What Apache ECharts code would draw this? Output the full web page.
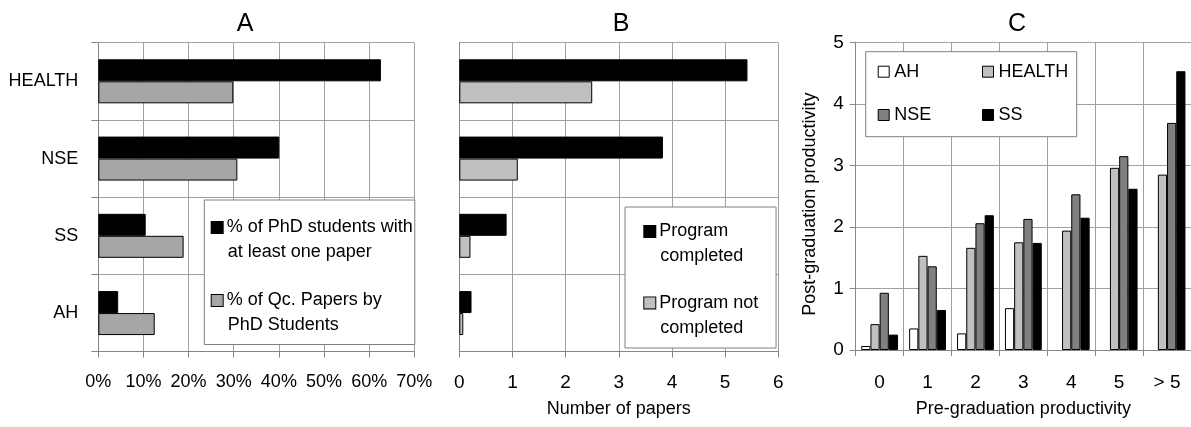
<!DOCTYPE html>
<html>
<head>
<meta charset="utf-8">
<script src="https://cdn.jsdelivr.net/npm/echarts@6/dist/echarts.min.js"></script>
<style>html,body{margin:0;padding:0;background:#fff}#c{width:1191px;height:427px}</style>
</head>
<body>
<div id="c"></div>
<script>
// ---- data ----
var catsAB = ['HEALTH', 'NSE', 'SS', 'AH'];
var pctWithPaper = [62.6, 40.1, 10.5, 4.4];
var pctQcPapers = [29.9, 30.8, 18.9, 12.5];
var papersCompleted = [5.42, 3.83, 0.89, 0.23];
var papersNotCompleted = [2.50, 1.10, 0.21, 0.075];
var catsC = ['0', '1', '2', '3', '4', '5', '> 5'];
var cAH = [0.065, 0.35, 0.27, 0.68, null, null, null];
var cHEALTH = [0.42, 1.53, 1.66, 1.75, 1.94, 2.96, 2.85];
var cNSE = [0.93, 1.36, 2.06, 2.13, 2.53, 3.15, 3.69];
var cSS = [0.25, 0.65, 2.19, 1.74, 2.15, 2.62, 4.53];
var ticksA = [0, 10, 20, 30, 40, 50, 60, 70];
var ticksB = [0, 1, 2, 3, 4, 5, 6];
var ticksC = [0, 1, 2, 3, 4, 5];
var legendA = [['% of PhD students with', 'at least one paper'], ['% of Qc. Papers by', 'PhD Students']];
var legendB = [['Program', 'completed'], ['Program not', 'completed']];
var seriesNamesA = ['% of PhD students with at least one paper', '% of Qc. Papers by PhD Students'];
var seriesNamesB = ['Program completed', 'Program not completed'];
var seriesNamesC = ['AH', 'HEALTH', 'NSE', 'SS'];

var F = "'Liberation Sans Narrow', 'Arial Narrow', 'Liberation Sans', sans-serif";
var GRID = '#a0a0a0', AXIS = '#868686';
var colA = ['#000000', '#a6a6a6'];
var colB = ['#000000', '#c0c0c0'];
var colC = ['#ffffff', '#c0c0c0', '#808080', '#000000'];

function richLegend(cols) {
  var r = {
    t: {fontFamily: F, fontSize: 18, lineHeight: 25, color: '#000'},
    g: {width: 4, height: 12, lineHeight: 25},
    sp: {width: 16, height: 12, lineHeight: 25}
  };
  cols.forEach(function (c, i) {
    r['ic' + i] = {width: 11, height: 11, backgroundColor: c, borderColor: '#000', borderWidth: 1, lineHeight: 25};
  });
  return r;
}
function legendFmt(names, lines) {
  return function (name) {
    var i = names.indexOf(name);
    var l = lines[i];
    return '{ic' + i + '|}{g|}{t|' + l[0] + '}\n{sp|}{t|' + l[1] + '}';
  };
}

var chart = echarts.init(document.getElementById('c'), null, {renderer: 'canvas'});
var option = {
  animation: false,
  backgroundColor: '#fff',
  textStyle: {fontFamily: F},
  graphic: [
    {type: 'text', x: 245, y: 24, style: {text: 'A', align: 'center', verticalAlign: 'middle', fontSize: 25, fontFamily: F, fill: '#000'}},
    {type: 'text', x: 621, y: 24, style: {text: 'B', align: 'center', verticalAlign: 'middle', fontSize: 25, fontFamily: F, fill: '#000'}},
    {type: 'text', x: 1017, y: 24, style: {text: 'C', align: 'center', verticalAlign: 'middle', fontSize: 25, fontFamily: F, fill: '#000'}}
  ],
  grid: [
    {left: 98.3, width: 316, top: 42.7, height: 309},
    {left: 459.3, width: 319, top: 42.7, height: 309},
    {left: 855.7, width: 342.3, top: 42.3, height: 307.7}
  ],
  legend: [
    {
      data: seriesNamesA, left: 204.3, top: 200, orient: 'vertical',
      icon: 'none', itemWidth: 0, itemHeight: 0, itemGap: 30,
      padding: [18.5, 2, 10, 2.4], backgroundColor: '#fff', borderColor: '#808080', borderWidth: 1,
      formatter: legendFmt(seriesNamesA, legendA),
      textStyle: {rich: richLegend(colA)}, selectedMode: false
    },
    {
      data: seriesNamesB, left: 625, top: 207, orient: 'vertical',
      icon: 'none', itemWidth: 0, itemHeight: 0, itemGap: 28.4,
      padding: [15.5, 17.7, 11.1, 14.3], backgroundColor: '#fff', borderColor: '#808080', borderWidth: 1,
      formatter: legendFmt(seriesNamesB, legendB),
      textStyle: {rich: richLegend(colB)}, selectedMode: false
    },
    {
      data: seriesNamesC, left: 865.7, top: 51.7, orient: 'horizontal', width: 230,
      icon: 'rect', itemWidth: 11, itemHeight: 11, itemGap: 21.3,
      padding: [9, 8.5, 10.7, 12], backgroundColor: '#fff', borderColor: '#808080', borderWidth: 1,
      itemStyle: {borderColor: '#000', borderWidth: 1},
      textStyle: {fontFamily: F, fontSize: 18, lineHeight: 22, width: 66.5, color: '#000'}, selectedMode: false
    }
  ],
  xAxis: [
    {
      type: 'value', gridIndex: 0, min: ticksA[0], max: ticksA[ticksA.length - 1], interval: ticksA[1] - ticksA[0],
      axisLine: {show: true, lineStyle: {color: AXIS}},
      axisTick: {show: true, length: 6, lineStyle: {color: AXIS}},
      axisLabel: {margin: 21, fontSize: 18, fontFamily: F, color: '#000', formatter: '{value}%'},
      splitLine: {show: true, lineStyle: {color: GRID}}
    },
    {
      type: 'value', gridIndex: 1, min: ticksB[0], max: ticksB[ticksB.length - 1], interval: ticksB[1] - ticksB[0],
      name: 'Number of papers', nameLocation: 'middle', nameGap: 48,
      nameTextStyle: {fontSize: 18, fontFamily: F, color: '#000'},
      axisLine: {show: true, lineStyle: {color: AXIS}},
      axisTick: {show: true, length: 6, lineStyle: {color: AXIS}},
      axisLabel: {margin: 22, fontSize: 19, fontFamily: F, color: '#000'},
      splitLine: {show: true, lineStyle: {color: GRID}}
    },
    {
      type: 'category', gridIndex: 2, data: catsC,
      name: 'Pre-graduation productivity', nameLocation: 'middle', nameGap: 50,
      nameTextStyle: {fontSize: 18, fontFamily: F, color: '#000'},
      axisLine: {show: true, lineStyle: {color: AXIS}},
      axisTick: {show: true, length: 6, lineStyle: {color: AXIS}},
      axisLabel: {margin: 23, fontSize: 19, fontFamily: F, color: '#000'},
      splitLine: {show: true, lineStyle: {color: GRID}}
    }
  ],
  yAxis: [
    {
      type: 'category', gridIndex: 0, data: catsAB, inverse: true,
      axisLine: {show: true, lineStyle: {color: AXIS}},
      axisTick: {show: true, length: 7, lineStyle: {color: AXIS}},
      axisLabel: {margin: 20, fontSize: 18, fontFamily: F, color: '#000'},
      splitLine: {show: true, lineStyle: {color: GRID}}
    },
    {
      type: 'category', gridIndex: 1, data: catsAB, inverse: true,
      axisLine: {show: true, lineStyle: {color: AXIS}},
      axisTick: {show: false},
      axisLabel: {show: false},
      splitLine: {show: true, lineStyle: {color: GRID}}
    },
    {
      type: 'value', gridIndex: 2, min: ticksC[0], max: ticksC[ticksC.length - 1], interval: ticksC[1] - ticksC[0],
      name: 'Post-graduation productivity', nameLocation: 'middle', nameGap: 37,
      nameTextStyle: {fontSize: 18, fontFamily: F, color: '#000', padding: [0, 16, 0, 0]},
      axisLine: {show: true, lineStyle: {color: AXIS}},
      axisTick: {show: true, length: 6, lineStyle: {color: AXIS}},
      axisLabel: {margin: 12, fontSize: 19, fontFamily: F, color: '#000'},
      splitLine: {show: true, lineStyle: {color: GRID}}
    }
  ],
  series: [
    {name: seriesNamesA[0], type: 'bar', xAxisIndex: 0, yAxisIndex: 0, data: pctWithPaper, barWidth: 22, barGap: '0%',
      itemStyle: {color: colA[0], borderColor: '#000', borderWidth: 1}},
    {name: seriesNamesA[1], type: 'bar', xAxisIndex: 0, yAxisIndex: 0, data: pctQcPapers, barWidth: 22, barGap: '0%',
      itemStyle: {color: colA[1], borderColor: '#000', borderWidth: 1}},
    {name: seriesNamesB[0], type: 'bar', xAxisIndex: 1, yAxisIndex: 1, data: papersCompleted, barWidth: 22, barGap: '0%',
      itemStyle: {color: colB[0], borderColor: '#000', borderWidth: 1}},
    {name: seriesNamesB[1], type: 'bar', xAxisIndex: 1, yAxisIndex: 1, data: papersNotCompleted, barWidth: 22, barGap: '0%',
      itemStyle: {color: colB[1], borderColor: '#000', borderWidth: 1}},
    {name: seriesNamesC[0], type: 'bar', xAxisIndex: 2, yAxisIndex: 2, data: cAH, barWidth: 9.2, barGap: '0%',
      itemStyle: {color: colC[0], borderColor: '#000', borderWidth: 1}},
    {name: seriesNamesC[1], type: 'bar', xAxisIndex: 2, yAxisIndex: 2, data: cHEALTH, barWidth: 9.2, barGap: '0%',
      itemStyle: {color: colC[1], borderColor: '#000', borderWidth: 1}},
    {name: seriesNamesC[2], type: 'bar', xAxisIndex: 2, yAxisIndex: 2, data: cNSE, barWidth: 9.2, barGap: '0%',
      itemStyle: {color: colC[2], borderColor: '#000', borderWidth: 1}},
    {name: seriesNamesC[3], type: 'bar', xAxisIndex: 2, yAxisIndex: 2, data: cSS, barWidth: 9.2, barGap: '0%',
      itemStyle: {color: colC[3], borderColor: '#000', borderWidth: 1}}
  ]
};
chart.setOption(option);
</script>
</body>
</html>
